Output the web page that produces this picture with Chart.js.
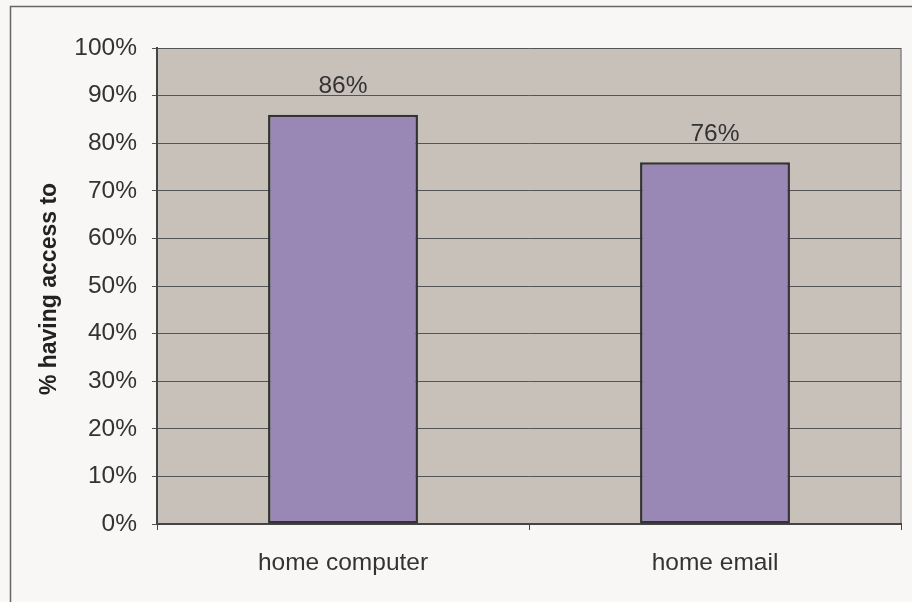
<!DOCTYPE html>
<html>
<head>
<meta charset="utf-8">
<script src="https://cdn.jsdelivr.net/npm/chart.js@4"></script>
<style>
html,body{margin:0;padding:0;background:#F8F7F5;}
#wrap{width:912px;height:602px;position:relative;}
</style>
</head>
<body>
<div id="wrap"><canvas id="c" width="912" height="602"></canvas></div>
<script>
const categories = ["home computer", "home email"];
const values = [0.86, 0.76];
const valueLabels = ["86%", "76%"];
const yTickValues = [0, 0.1, 0.2, 0.3, 0.4, 0.5, 0.6, 0.7, 0.8, 0.9, 1.0];
const yAxisTitle = "% having access to";

const FONT = "'Liberation Sans', Arial, sans-serif";

const bgPlugin = {
  id: 'bgPlugin',
  beforeDraw(chart) {
    const ctx = chart.ctx;
    const a = chart.chartArea;
    ctx.save();
    ctx.fillStyle = '#F8F7F5';
    ctx.fillRect(0, 0, chart.width, chart.height);
    ctx.strokeStyle = '#666';
    ctx.lineWidth = 1.5;
    ctx.strokeRect(10.5, 6.5, chart.width + 20, chart.height + 20);
    ctx.fillStyle = '#C8C1BA';
    ctx.fillRect(a.left, a.top, a.right - a.left, a.bottom - a.top);
    ctx.strokeStyle = '#8a8682';
    ctx.lineWidth = 1.5;
    ctx.beginPath();
    ctx.moveTo(a.right, a.top);
    ctx.lineTo(a.right, a.bottom);
    ctx.stroke();
    // y axis title
    ctx.translate(50, (a.top + a.bottom) / 2 + 3);
    ctx.rotate(-Math.PI / 2);
    ctx.font = "bold 23px " + FONT;
    ctx.fillStyle = '#222';
    ctx.textAlign = 'center';
    ctx.textBaseline = 'middle';
    ctx.fillText(yAxisTitle, 0, 0);
    ctx.restore();
  },
  afterDatasetsDraw(chart) {
    const ctx = chart.ctx;
    const meta = chart.getDatasetMeta(0);
    ctx.save();
    ctx.font = "24.5px " + FONT;
    ctx.fillStyle = '#333';
    ctx.textAlign = 'center';
    ctx.textBaseline = 'middle';
    meta.data.forEach((bar, i) => {
      ctx.fillText(valueLabels[i], bar.x, bar.y - 28);
    });
    ctx.restore();
  }
};

new Chart(document.getElementById('c'), {
  type: 'bar',
  data: {
    labels: categories,
    datasets: [{
      data: values,
      backgroundColor: '#9988B5',
      borderColor: '#333333',
      borderWidth: 2.5,
      borderSkipped: false,
      barPercentage: 0.403,
      categoryPercentage: 1.0
    }]
  },
  options: {
    responsive: false,
    animation: false,
    devicePixelRatio: 1,
    layout: { padding: { top: 48, right: 11, left: 0, bottom: 0 } },
    plugins: {
      legend: { display: false },
      tooltip: { enabled: false }
    },
    scales: {
      x: {
        grid: {
          drawOnChartArea: false,
          drawTicks: true,
          tickLength: 6,
          color: '#444',
          offset: true
        },
        border: { display: true, color: '#444', width: 2 },
        ticks: {
          font: { family: FONT, size: 24.5 },
          color: '#333',
          padding: 19
        },
        afterFit(scale) { scale.height = 78; }
      },
      y: {
        min: 0,
        max: 1,
        afterBuildTicks(scale) {
          scale.ticks = yTickValues.map(v => ({ value: v }));
        },
        grid: {
          color: '#555',
          lineWidth: 1,
          drawTicks: true,
          tickLength: 5
        },
        border: { display: true, color: '#444', width: 2 },
        ticks: {
          font: { family: FONT, size: 24.5 },
          color: '#333',
          padding: 15,
          callback: (v) => Math.round(v * 100) + '%'
        },
        title: { display: false },
        afterFit(scale) { scale.width = 157; }
      }
    }
  },
  plugins: [bgPlugin]
});
</script>
</body>
</html>
